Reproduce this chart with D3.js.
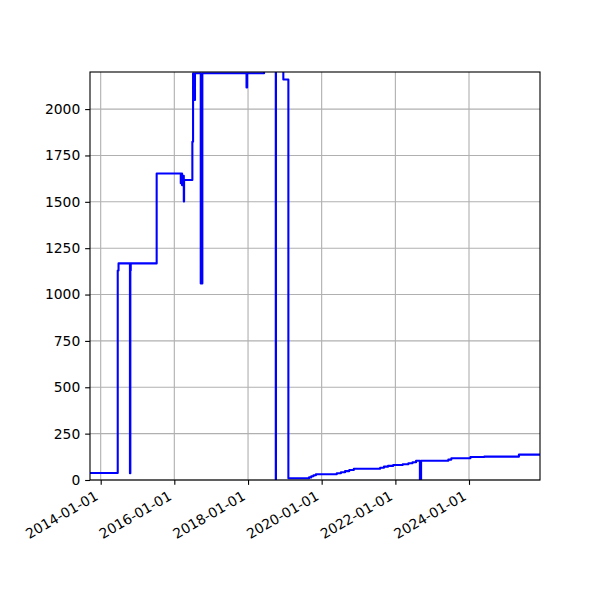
<!DOCTYPE html>
<html>
<head>
<meta charset="utf-8">
<script src="https://cdn.jsdelivr.net/npm/d3@7"></script>
<style>
  body { margin: 0; background: #fff; }
  svg { font-family: "DejaVu Sans", sans-serif; }
</style>
</head>
<body>
<div id="chart"></div>
<script>
// step series (values above 2200 are clipped in the original)
var dates = [
  "2013-09-17", "2014-06-19", "2014-06-27", "2014-10-18", "2014-10-22", "2014-10-26",
  "2015-07-10", "2016-03-05", "2016-03-14", "2016-03-18", "2016-03-30", "2016-04-04",
  "2016-04-07", "2016-06-28", "2016-07-05", "2016-07-12", "2016-07-24", "2016-09-19",
  "2016-10-05", "2017-12-17", "2017-12-23", "2018-06-09", "2018-10-03", "2018-10-05",
  "2018-12-17", "2019-02-05", "2019-08-29", "2019-09-20", "2019-10-12", "2019-11-05",
  "2020-05-30", "2020-07-10", "2020-08-20", "2020-10-01", "2020-11-15", "2021-08-03",
  "2021-09-10", "2021-10-20", "2021-12-10", "2022-03-15", "2022-05-10", "2022-06-20",
  "2022-07-25", "2022-09-01", "2022-09-13", "2023-06-10", "2023-07-10", "2024-01-15",
  "2024-06-01", "2025-05-10", "2025-12-05"
];
var values = [
  38, 1130, 1168, 36, 1130, 1168,
  1653, 1600, 1653, 1590, 1640, 1502,
  1618, 1824, 2193, 2049, 2193, 1060,
  2193, 2117, 2193, 2400, 0, 2400,
  2160, 9, 14, 20, 26, 31,
  36, 42, 48, 54, 61, 66,
  72, 76, 81, 85, 90, 96,
  104, 0, 104, 110, 117, 124,
  126, 137, 137
];
var yTicks = [0, 250, 500, 750, 1000, 1250, 1500, 1750, 2000];
var xTickLabels = ["2014-01-01", "2016-01-01", "2018-01-01", "2020-01-01", "2022-01-01", "2024-01-01"];
var xLimits = ["2013-09-17", "2025-12-05"];
var yLimits = [0, 2200];

var parseDate = d3.timeParse("%Y-%m-%d");
var data = dates.map(function(d, i) { return { date: parseDate(d), value: values[i] }; });

var width = 600;
var height = 600;
var margin = { "top": 72, "bottom": 120, "right": 60, "left": 90 };
var pt = 100 / 72;   // matplotlib points -> px at 100 dpi

var svg = d3.select("#chart").append("svg").attr("width", width).attr("height", height);

var xScale = d3.scaleTime()
    .domain(xLimits.map(parseDate))
    .range([margin.left, width - margin.right]);

var yScale = d3.scaleLinear()
    .domain(yLimits)
    .range([height - margin.bottom, margin.top]);

// grid
svg.append("g")
    .selectAll("line")
    .data(xTickLabels)
    .enter()
    .append("line")
    .attr("x1", function(d) { return xScale(parseDate(d)); })
    .attr("x2", function(d) { return xScale(parseDate(d)); })
    .attr("y1", margin.top)
    .attr("y2", height - margin.bottom)
    .attr("stroke", "#b0b0b0")
    .attr("stroke-width", 0.8 * pt);

svg.append("g")
    .selectAll("line")
    .data(yTicks)
    .enter()
    .append("line")
    .attr("x1", margin.left)
    .attr("x2", width - margin.right)
    .attr("y1", function(d) { return yScale(d); })
    .attr("y2", function(d) { return yScale(d); })
    .attr("stroke", "#b0b0b0")
    .attr("stroke-width", 0.8 * pt);

// the line, clipped to the axes box
svg.append("clipPath")
    .attr("id", "plotclip")
    .append("rect")
    .attr("x", margin.left)
    .attr("y", margin.top)
    .attr("width", width - margin.left - margin.right)
    .attr("height", height - margin.top - margin.bottom);

var line = d3.line()
    .curve(d3.curveStepAfter)
    .x(function(d) { return xScale(d.date); })
    .y(function(d) { return yScale(d.value); });

svg.append("path")
    .datum(data)
    .attr("clip-path", "url(#plotclip)")
    .attr("d", line)
    .attr("fill", "none")
    .attr("stroke", "#0000ff")
    .attr("stroke-width", 1.5 * pt)
    .attr("stroke-linejoin", "round");

// axes
var fontSize = 10 * pt;
var tickLen = 3.5 * pt;

var axisx = d3.axisBottom(xScale)
    .tickValues(xTickLabels.map(parseDate))
    .tickSize(tickLen)
    .tickFormat("");

var xAxisGroup = svg.append("g")
    .attr("transform", "translate(0," + (height - margin.bottom) + ")")
    .call(axisx);
xAxisGroup.select(".domain").remove();
xAxisGroup.selectAll(".tick line").attr("stroke", "#000").attr("stroke-width", 0.8 * pt);

svg.append("g")
    .selectAll("text")
    .data(xTickLabels)
    .enter()
    .append("text")
    .attr("transform", function(d) {
      return "translate(" + (xScale(parseDate(d)) - 0.5 * fontSize) + "," + (height - margin.bottom + 2 * tickLen) + ") rotate(-30)";
    })
    .attr("y", 0.76 * fontSize)
    .attr("text-anchor", "end")
    .style("font-size", fontSize + "px")
    .attr("fill", "#000")
    .text(function(d) { return d; });

var axisy = d3.axisLeft(yScale)
    .tickValues(yTicks)
    .tickSize(tickLen)
    .tickPadding(tickLen)
    .tickFormat(d3.format("d"));

var yAxisGroup = svg.append("g")
    .attr("transform", "translate(" + margin.left + ",0)")
    .call(axisy);
yAxisGroup.select(".domain").remove();
yAxisGroup.selectAll(".tick line").attr("stroke", "#000").attr("stroke-width", 0.8 * pt);
yAxisGroup.selectAll(".tick text")
    .attr("fill", "#000")
    .style("font-size", fontSize + "px")
    .style("font-family", "DejaVu Sans");

// frame
svg.append("rect")
    .attr("x", margin.left)
    .attr("y", margin.top)
    .attr("width", width - margin.left - margin.right)
    .attr("height", height - margin.top - margin.bottom)
    .attr("fill", "none")
    .attr("stroke", "#000")
    .attr("stroke-width", 0.8 * pt);
</script>
</body>
</html>
